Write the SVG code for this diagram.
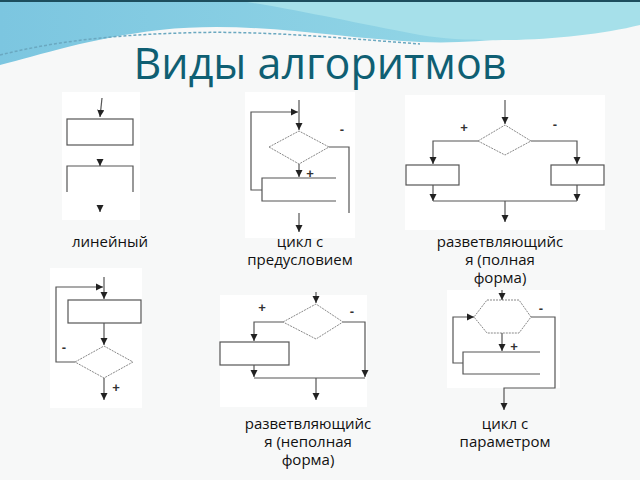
<svg xmlns="http://www.w3.org/2000/svg" width="640" height="480" viewBox="0 0 640 480">
<defs>
<linearGradient id="bg" x1="0" y1="0" x2="1" y2="0"><stop offset="0" stop-color="#7cc6e0"/><stop offset="1" stop-color="#9adbe8"/></linearGradient>
<marker id="a" viewBox="0 0 6 6" refX="6" refY="3" markerWidth="6" markerHeight="6" orient="auto"><path d="M0,0L6,3L0,6z" fill="#222"/></marker>
<style>
.l{fill:none;stroke:#555;stroke-width:1.2}
.d{fill:#fff;stroke:#888;stroke-width:1;stroke-dasharray:2 1}
.r{fill:#fff;stroke:#555;stroke-width:1.2}
.p{fill:#fff}
.t{font-family:"Open Sans","DejaVu Sans",sans-serif;font-size:15px;fill:#111;text-anchor:middle}
.s{font-family:"Liberation Sans",sans-serif;font-size:13px;font-weight:bold;fill:#333;text-anchor:middle}
</style>
</defs>
<rect width="640" height="480" fill="#f7f8f8"/>
<path d="M0,0H640V20C560,30 500,45 420,42C330,38 250,20 160,30C90,38 40,55 0,65Z" fill="url(#bg)"/>
<path d="M235,0H640V25C580,40 480,45 420,35C350,22 300,10 235,0Z" fill="#a6e0ea"/>
<path d="M0,0H640V2H0Z" fill="#1d4e5e"/>
<path d="M0,55C60,40 120,35 180,33C260,30 340,38 420,44" fill="none" stroke="#6aa8c0" stroke-width="1.5" stroke-dasharray="3 2"/>
<text x="320" y="79" font-family="Open Sans, DejaVu Sans, sans-serif" font-size="43" fill="#0f5f73" text-anchor="middle">Виды алгоритмов</text>
<g id="panels">
<rect class="p" x="62" y="92" width="78" height="128"/>
<rect class="p" x="245" y="92" width="110" height="146"/>
<rect class="p" x="405" y="95" width="200" height="135"/>
<rect class="p" x="50" y="268" width="92" height="140"/>
<rect class="p" x="220" y="295" width="147" height="112"/>
<rect class="p" x="447" y="290" width="113" height="98"/>
</g>
<g id="linear">
<rect class="r" x="67" y="119" width="66" height="26"/>
<path class="l" d="M67,192V166H133V192"/>
</g>
<g id="loop-pre">
<path class="d" d="M269,147L299,131L329,147L299,164Z"/>
<path class="l" d="M336,178H262V201H336"/>
<text class="s" x="342" y="134">-</text><text class="s" x="310" y="178">+</text>
</g>
<g id="branch-full">
<path class="d" d="M478,141L505,125L531,141L505,155Z"/>
<rect class="r" x="406" y="165" width="53" height="20"/>
<rect class="r" x="551" y="165" width="53" height="20"/>
<text class="s" x="464" y="132">+</text><text class="s" x="555" y="129">-</text>
</g>
<g id="loop-post">
<rect class="r" x="68" y="300" width="73" height="23"/>
<path class="d" d="M75,362L104,346L133,362L104,378Z"/>
<text class="s" x="64" y="352">-</text><text class="s" x="116" y="392">+</text>
</g>
<g id="branch-part">
<path class="d" d="M283,322L316,304L343,322L316,339Z"/>
<rect class="r" x="220" y="342" width="69" height="23"/>
<text class="s" x="262" y="312">+</text><text class="s" x="352" y="316">-</text>
</g>
<g id="loop-param">
<path class="d" d="M487,300H519L531,317L519,333H487L474,317Z"/>
<path class="l" d="M540,352H463V374H540"/>
<text class="s" x="541" y="313">-</text><text class="s" x="514" y="351">+</text>
</g>
<g id="connectors">
<path class="l" marker-end="url(#a)" d="M102,98L100,117"/>
<path class="l" marker-end="url(#a)" d="M100,160V166"/>
<path class="l" marker-end="url(#a)" d="M100,206V212"/>
<path class="l" marker-end="url(#a)" d="M299,100V130"/>
<path class="l" marker-end="url(#a)" d="M262,190H251V112H298"/>
<path class="l" d="M329,147H349V213"/>
<path class="l" marker-end="url(#a)" d="M299,164V177"/>
<path class="l" marker-end="url(#a)" d="M299,213V232"/>
<path class="l" marker-end="url(#a)" d="M505,100V124"/>
<path class="l" marker-end="url(#a)" d="M478,141H433V164"/>
<path class="l" marker-end="url(#a)" d="M531,141H577V164"/>
<path class="l" marker-end="url(#a)" d="M433,185V201"/>
<path class="l" marker-end="url(#a)" d="M577,185V201"/>
<path class="l" d="M433,201H577"/>
<path class="l" marker-end="url(#a)" d="M505,201V222"/>
<path class="l" marker-end="url(#a)" d="M104,277V299"/>
<path class="l" marker-end="url(#a)" d="M75,362H56V287H103"/>
<path class="l" marker-end="url(#a)" d="M104,323V345"/>
<path class="l" marker-end="url(#a)" d="M104,378V400"/>
<path class="l" marker-end="url(#a)" d="M316,292V303"/>
<path class="l" marker-end="url(#a)" d="M283,322H254V341"/>
<path class="l" marker-end="url(#a)" d="M343,322H365V377"/>
<path class="l" marker-end="url(#a)" d="M254,365V377"/>
<path class="l" d="M254,378H365"/>
<path class="l" marker-end="url(#a)" d="M316,378V400"/>
<path class="l" marker-end="url(#a)" d="M502,290V300"/>
<path class="l" marker-end="url(#a)" d="M463,363H453V317H474"/>
<path class="l" marker-end="url(#a)" d="M502,333V351"/>
<path class="l" marker-end="url(#a)" d="M531,317H555V388H504V410"/>
</g>
<g id="labels">
<text class="t" x="110" y="247">линейный</text>
<text class="t" x="300" y="247">цикл с</text><text class="t" x="300" y="265">предусловием</text>
<text class="t" x="500" y="247">разветвляющийс</text><text class="t" x="500" y="265">я (полная</text><text class="t" x="500" y="283">форма)</text>
<text class="t" x="308" y="429">разветвляющийс</text><text class="t" x="308" y="447">я (неполная</text><text class="t" x="308" y="465">форма)</text>
<text class="t" x="505" y="429">цикл с</text><text class="t" x="505" y="447">параметром</text>
</g>
</svg>
